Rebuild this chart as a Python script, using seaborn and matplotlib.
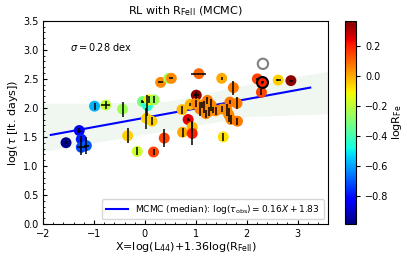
import numpy as np
import matplotlib
matplotlib.use('Agg')
import matplotlib.pyplot as plt
import seaborn as sns

# data
x = [-1.55, -1.29, -1.25, -1.25, -1.15, -0.99, -0.77, -0.44, -0.34, -0.15,
     -0.05, 0.05, 0.08, 0.18, 0.03, 0.14, 0.17, 0.31, 0.47, 0.52,
     0.38, 0.73, 0.89, 0.85, 0.74, 0.93, 0.93, 1.01, 1.06, 1.00,
     1.08, 1.12, 1.16, 1.23, 1.26, 1.30, 1.34, 1.39, 1.20, 1.51,
     1.52, 1.54, 1.61, 1.65, 1.69, 1.67, 1.74, 1.81, 1.82, 2.21,
     2.29, 2.62, 2.87]
y = [1.40, 1.61, 1.46, 1.32, 1.35, 2.03, 2.05, 1.98, 1.52, 1.25,
     2.11, 2.04, 2.14, 2.14, 1.82, 1.77, 1.24, 2.44, 2.51, 2.51,
     1.48, 1.97, 2.06, 1.80, 1.58, 1.67, 1.56, 2.22, 2.59, 2.08,
     1.98, 2.05, 2.02, 2.13, 1.94, 2.05, 1.97, 1.95, 1.90, 2.51,
     1.98, 1.50, 1.96, 1.88, 1.80, 2.10, 2.35, 2.08, 1.77, 2.50,
     2.27, 2.48, 2.47]
xerr = [0.0, 0.04, 0.0, 0.08, 0.05, 0.0, 0.09, 0.0, 0.0, 0.0,
        0.03, 0.0, 0.0, 0.0, 0.0, 0.0, 0.0, 0.05, 0.0, 0.04,
        0.0, 0.0, 0.0, 0.03, 0.0, 0.0, 0.0, 0.05, 0.15, 0.0,
        0.0, 0.0, 0.0, 0.0, 0.0, 0.0, 0.0, 0.0, 0.0, 0.0,
        0.0, 0.0, 0.0, 0.0, 0.0, 0.0, 0.0, 0.0, 0.0, 0.0,
        0.0, 0.05, 0.04]
yerr = [0.03, 0.04, 0.05, 0.14, 0.14, 0.06, 0.07, 0.13, 0.13, 0.07,
        0.03, 0.18, 0.06, 0.06, 0.18, 0.07, 0.06, 0.0, 0.0, 0.0,
        0.15, 0.07, 0.02, 0.03, 0.08, 0.10, 0.20, 0.06, 0.0, 0.06,
        0.12, 0.06, 0.10, 0.06, 0.08, 0.10, 0.05, 0.07, 0.07, 0.03,
        0.05, 0.07, 0.10, 0.12, 0.08, 0.03, 0.12, 0.10, 0.06, 0.02,
        0.05, 0.02, 0.0]
logRfe = [-0.97, -0.85, -0.78, -0.72, -0.70, -0.58, -0.20, -0.25, -0.05, -0.18,
          -0.32, -0.45, -0.10, -0.25, -0.05, -0.05, 0.15, 0.05, -0.25, 0.05,
          0.15, -0.02, -0.02, 0.25, 0.0, -0.02, 0.20, 0.35, 0.10, 0.05,
          0.05, 0.03, 0.05, 0.07, 0.05, 0.05, 0.05, 0.05, 0.05, 0.0,
          0.03, -0.08, 0.05, 0.05, 0.05, 0.07, 0.07, 0.07, 0.07, 0.15,
          0.15, -0.05, 0.35]

# highlighted source (black edge) and open grey circle
hl_x, hl_y, hl_xerr, hl_yerr, hl_c = [2.31], [2.44], [0.03], [0.03], [0.20]
open_x, open_y = [2.32], [2.76]

# MCMC fit and its scatter band
slope, intercept = 0.16, 1.83
fit_x = np.array([-1.85, 3.25])
band_x = [-2.0, -1.0, 0.5, 2.0, 3.6]
band_lo = [1.25, 1.40, 1.62, 1.85, 1.90]
band_hi = [2.08, 2.08, 2.12, 2.40, 2.63]

vmin, vmax = -0.99, 0.37
jet = matplotlib.colormaps['jet']

fig = plt.figure(figsize=(4.07, 2.61), dpi=100)
ax = fig.add_axes([0.106, 0.142, 0.700, 0.778])
cax = fig.add_axes([0.848, 0.142, 0.027, 0.778])

ax.fill_between(band_x, band_lo, band_hi, color='#e6f1e6', alpha=0.6, lw=0, zorder=0)
ax.plot(fit_x, slope * fit_x + intercept, color='blue', lw=1.5, zorder=2,
        label=r'MCMC (median): log($\tau_{\rm obs}$)$=0.16X+1.83$')

sns.scatterplot(x=x, y=y, hue=logRfe, palette=jet, hue_norm=(vmin, vmax),
                s=62, linewidth=0, legend=False, ax=ax, zorder=3)
ax.scatter(hl_x, hl_y, c=hl_c, cmap=jet, vmin=vmin, vmax=vmax, s=62,
           edgecolors='black', linewidths=1.5, zorder=3)
ax.scatter(open_x, open_y, s=55, facecolors='none', edgecolors='grey',
           linewidths=1.5, zorder=3)
ax.errorbar(x + hl_x, y + hl_y, xerr=xerr + hl_xerr, yerr=yerr + hl_yerr,
            fmt='none', ecolor='black', elinewidth=1.1, zorder=4)

ax.text(-1.48, 3.05, r'$\sigma=0.28$ dex', fontsize=7, va='center')

ax.set_xlim(-2, 3.6)
ax.set_ylim(0, 3.5)
ax.set_xticks([-2, -1, 0, 1, 2, 3])
ax.set_xticklabels(['\u22122', '\u22121', '0', '1', '2', '3'])
ax.set_yticks(np.arange(0, 3.6, 0.5))
ax.minorticks_on()
ax.tick_params(which='both', direction='in', labelsize=7)
ax.tick_params(which='major', length=3)
ax.tick_params(which='minor', length=1.5)
ax.set_xlabel(r'X=log(L$_{44}$)+1.36log(R$_{\rm FeII}$)', fontsize=8, labelpad=1)
ax.set_ylabel(r'log($\tau$ [lt. days])', fontsize=8, labelpad=2)
ax.set_title(r'RL with R$_{\rm FeII}$ (MCMC)', fontsize=8, pad=5)
ax.legend(loc='lower right', fontsize=6.5, handlelength=2.5)

sm = plt.cm.ScalarMappable(cmap=jet, norm=plt.Normalize(vmin, vmax))
cb = fig.colorbar(sm, cax=cax)
cb.set_ticks([-0.8, -0.6, -0.4, -0.2, 0.0, 0.2])
cb.ax.tick_params(labelsize=7, length=3)
cb.set_label(r'logR$_{\rm Fe}$', fontsize=8, labelpad=1)

fig.savefig('out.png', dpi=100)
